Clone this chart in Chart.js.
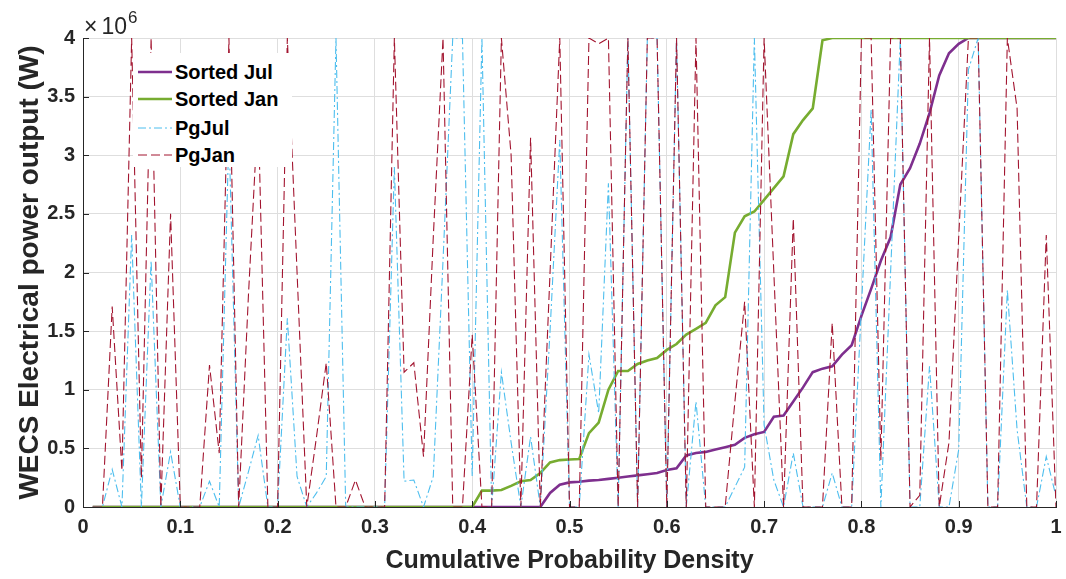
<!DOCTYPE html>
<html>
<head>
<meta charset="utf-8">
<script src="https://cdn.jsdelivr.net/npm/chart.js@4.4.1/dist/chart.umd.min.js"></script>
<style>
  html, body { margin: 0; padding: 0; background: #ffffff; }
  #wrap { position: relative; width: 1066px; height: 579px; overflow: hidden; font-family: 'Liberation Sans', Arial, Helvetica, sans-serif; }
  #c { position: absolute; left: 0; top: 0; }
  #mult { position: absolute; left: 84px; top: 15px; font-size: 23px; line-height: 1; color: #262626; white-space: nowrap; }
  #mult .ten { margin-left: 4px; }
  #mult sup { font-size: 17px; position: relative; top: -2px; vertical-align: super; line-height: 0; margin-left: 1px; }
  #legend { position: absolute; left: 133px; top: 53px; width: 159px; height: 114px; background: #ffffff; }
  .item { position: absolute; left: 0; height: 24px; width: 159px; }
  .item svg { position: absolute; left: 5px; top: 0; }
  .item span { position: absolute; left: 42px; top: 0; line-height: 24px; font-size: 20px; font-weight: bold; color: #000000; white-space: nowrap; }
</style>
</head>
<body>
<div id="wrap">
  <canvas id="c" width="1066" height="579"></canvas>
  <div id="mult">&times;<span class="ten">10</span><sup>6</sup></div>
  <div id="legend">
    <div class="item" style="top:6.7px"><svg width="34" height="24"><line x1="0" y1="12" x2="34" y2="12" stroke="#7E2F8E" stroke-width="2.5"/></svg><span>Sorted Jul</span></div>
    <div class="item" style="top:34.3px"><svg width="34" height="24"><line x1="0" y1="12" x2="34" y2="12" stroke="#77AC30" stroke-width="2.5"/></svg><span>Sorted Jan</span></div>
    <div class="item" style="top:62.7px"><svg width="34" height="24"><line x1="0" y1="12" x2="34" y2="12" stroke="#4DBEEE" stroke-width="1" stroke-dasharray="8 3 2 3"/></svg><span>PgJul</span></div>
    <div class="item" style="top:90px"><svg width="34" height="24"><line x1="0" y1="12" x2="34" y2="12" stroke="#A2142F" stroke-width="1" stroke-dasharray="9 4"/></svg><span>PgJan</span></div>
  </div>
</div>
<script>
// Cumulative probability (x categories)
const cdf = [0.01,0.02,0.03,0.04,0.05,0.06,0.07,0.08,0.09,0.10,
             0.11,0.12,0.13,0.14,0.15,0.16,0.17,0.18,0.19,0.20,
             0.21,0.22,0.23,0.24,0.25,0.26,0.27,0.28,0.29,0.30,
             0.31,0.32,0.33,0.34,0.35,0.36,0.37,0.38,0.39,0.40,
             0.41,0.42,0.43,0.44,0.45,0.46,0.47,0.48,0.49,0.50,
             0.51,0.52,0.53,0.54,0.55,0.56,0.57,0.58,0.59,0.60,
             0.61,0.62,0.63,0.64,0.65,0.66,0.67,0.68,0.69,0.70,
             0.71,0.72,0.73,0.74,0.75,0.76,0.77,0.78,0.79,0.80,
             0.81,0.82,0.83,0.84,0.85,0.86,0.87,0.88,0.89,0.90,
             0.91,0.92,0.93,0.94,0.95,0.96,0.97,0.98,0.99,1.00];

// Power output, in units of 10^6 W
const sortedJul = [0,0,0,0,0,0,0,0,0,0,
                   0,0,0,0,0,0,0,0,0,0,
                   0,0,0,0,0,0,0,0,0,0,
                   0,0,0,0,0,0,0,0,0,0,
                   0,0,0,0,0,0,0,0.12,0.19,0.21,
                   0.215,0.225,0.23,0.24,0.25,0.26,0.27,0.28,0.29,0.315,
                   0.33,0.44,0.46,0.47,0.49,0.51,0.53,0.59,0.62,0.64,
                   0.77,0.78,0.90,1.02,1.15,1.18,1.20,1.30,1.38,1.63,
                   1.86,2.10,2.30,2.75,2.89,3.10,3.36,3.68,3.87,3.95,
                   4,4,4,4,4,4,4,4,4,4];

const sortedJan = [0,0,0,0,0,0,0,0,0,0,
                   0,0,0,0,0,0,0,0,0,0,
                   0,0,0,0,0,0,0,0,0,0,
                   0,0,0,0,0,0,0,0,0,0,
                   0.14,0.14,0.145,0.18,0.22,0.23,0.29,0.38,0.40,0.405,
                   0.41,0.63,0.72,1.0,1.16,1.16,1.22,1.25,1.27,1.34,
                   1.39,1.47,1.52,1.57,1.72,1.79,2.34,2.48,2.52,2.62,
                   2.72,2.82,3.18,3.30,3.40,3.98,4,4,4,4,
                   4,4,4,4,4,4,4,4,4,4,
                   4,4,4,4,4,4,4,4,4,4];

const pgJul = [0,0,0.32,0,2.32,0,2.1,0,0.47,0,
               0,0,0.22,0,3.2,0,0.3,0.61,0,0,
               1.61,0.26,0,0.12,0.26,4,0,0,0,0,
               0,2.9,0.22,0.23,0,0.26,2.1,4,4,0.26,
               4,0,1.15,0.55,0,0.6,0,1.5,3.13,0,
               0,1.3,0.8,2.76,0,4,0,4,4,0,
               4,0,0.9,0,0,0,0.17,0.34,4,0.7,
               0.23,0,0.46,0,0,0,0.29,0,0,1.7,
               3.39,0,2.0,4,0,0,1.2,0,0,0.49,
               3.73,4,0,0,1.85,0.66,0,0,0.43,0.09];

const pgJan = [0,0,1.71,0.31,4,0.25,4,0,2.5,0,
               0,0,1.21,0.46,4,0,1.8,3.4,0,0,
               4,2.0,0,0.6,1.23,0,0,0.23,0,0,
               0,4,1.15,1.23,0.43,2.3,4,0,0,1.47,
               0,0,4,3.0,0,3.15,0,2.0,4,0,
               0,4,3.95,4,0,4,0,4,4,0,
               4,0,4,0,0,0,0.9,1.75,0,4,
               2.0,0,2.46,0,0,0,1.57,0,0,4,
               4,0.4,4,4,0,0.1,4,0,0.55,2.3,
               4,4,0,0,4,3.4,0,0,2.32,0];

const xTicks = [0,0.1,0.2,0.3,0.4,0.5,0.6,0.7,0.8,0.9,1];
const yTicks = [0,0.5,1,1.5,2,2.5,3,3.5,4];

function pts(vals) { return cdf.map((x, i) => ({ x: x, y: vals[i] })); }

const FONT = "'Liberation Sans', Arial, Helvetica, sans-serif";
const AX = '#262626';

const inwardTicks = {
  id: 'inwardTicks',
  afterDraw(chart) {
    const { ctx, chartArea, scales } = chart;
    ctx.save();
    ctx.strokeStyle = AX;
    ctx.lineWidth = 1;
    ctx.beginPath();
    xTicks.forEach(v => {
      const px = Math.round(scales.x.getPixelForValue(v)) + 0.5;
      ctx.moveTo(px, chartArea.bottom);
      ctx.lineTo(px, chartArea.bottom - 6);
    });
    yTicks.forEach(v => {
      const py = Math.round(scales.y.getPixelForValue(v)) + 0.5;
      ctx.moveTo(chartArea.left, py);
      ctx.lineTo(chartArea.left + 6, py);
    });
    ctx.stroke();
    ctx.restore();
  }
};

new Chart(document.getElementById('c'), {
  type: 'line',
  data: {
    datasets: [
      { label: 'Sorted Jul', data: pts(sortedJul), borderColor: '#7E2F8E', borderWidth: 2.6, order: 3 },
      { label: 'Sorted Jan', data: pts(sortedJan), borderColor: '#77AC30', borderWidth: 2.6, order: 2 },
      { label: 'PgJul', data: pts(pgJul), borderColor: '#4DBEEE', borderWidth: 1.1, borderDash: [8, 3, 2, 3], order: 1 },
      { label: 'PgJan', data: pts(pgJan), borderColor: '#A2142F', borderWidth: 1.1, borderDash: [9, 4], order: 0 }
    ]
  },
  options: {
    responsive: false,
    animation: false,
    events: [],
    elements: { point: { radius: 0 }, line: { tension: 0, fill: false } },
    plugins: { legend: { display: false }, tooltip: { enabled: false } },
    layout: { padding: { left: 0, right: 10, top: 38, bottom: 0 } },
    scales: {
      x: {
        type: 'linear', min: 0, max: 1,
        afterFit(s) { s.height = 72; s.paddingRight = 0; s.paddingLeft = 0; },
        afterBuildTicks(s) { s.ticks = xTicks.map(v => ({ value: v })); },
        grid: { color: '#dedede', lineWidth: 1, drawTicks: false },
        border: { color: AX, width: 1 },
        ticks: {
          padding: 8, color: AX, maxRotation: 0,
          font: { family: FONT, size: 20, weight: 'bold' },
          callback: v => String(Number(v.toFixed(1)))
        },
        title: {
          display: true, text: 'Cumulative Probability Density', color: AX,
          font: { family: FONT, size: 25, weight: 'bold' },
          padding: { top: 0, bottom: 3 }
        }
      },
      y: {
        min: 0, max: 4,
        afterFit(s) { s.width = 83; s.paddingTop = 0; s.paddingBottom = 0; },
        afterBuildTicks(s) { s.ticks = yTicks.map(v => ({ value: v })); },
        grid: { color: '#dedede', lineWidth: 1, drawTicks: false },
        border: { color: AX, width: 1 },
        ticks: {
          padding: 8, color: AX,
          font: { family: FONT, size: 20, weight: 'bold' },
          callback: v => String(v)
        },
        title: {
          display: true, text: 'WECS Electrical power output (W)', color: AX,
          font: { family: FONT, size: 28, weight: 'bold' },
          padding: { top: 13, bottom: 0 }
        }
      }
    }
  },
  plugins: [inwardTicks]
});
</script>
</body>
</html>
